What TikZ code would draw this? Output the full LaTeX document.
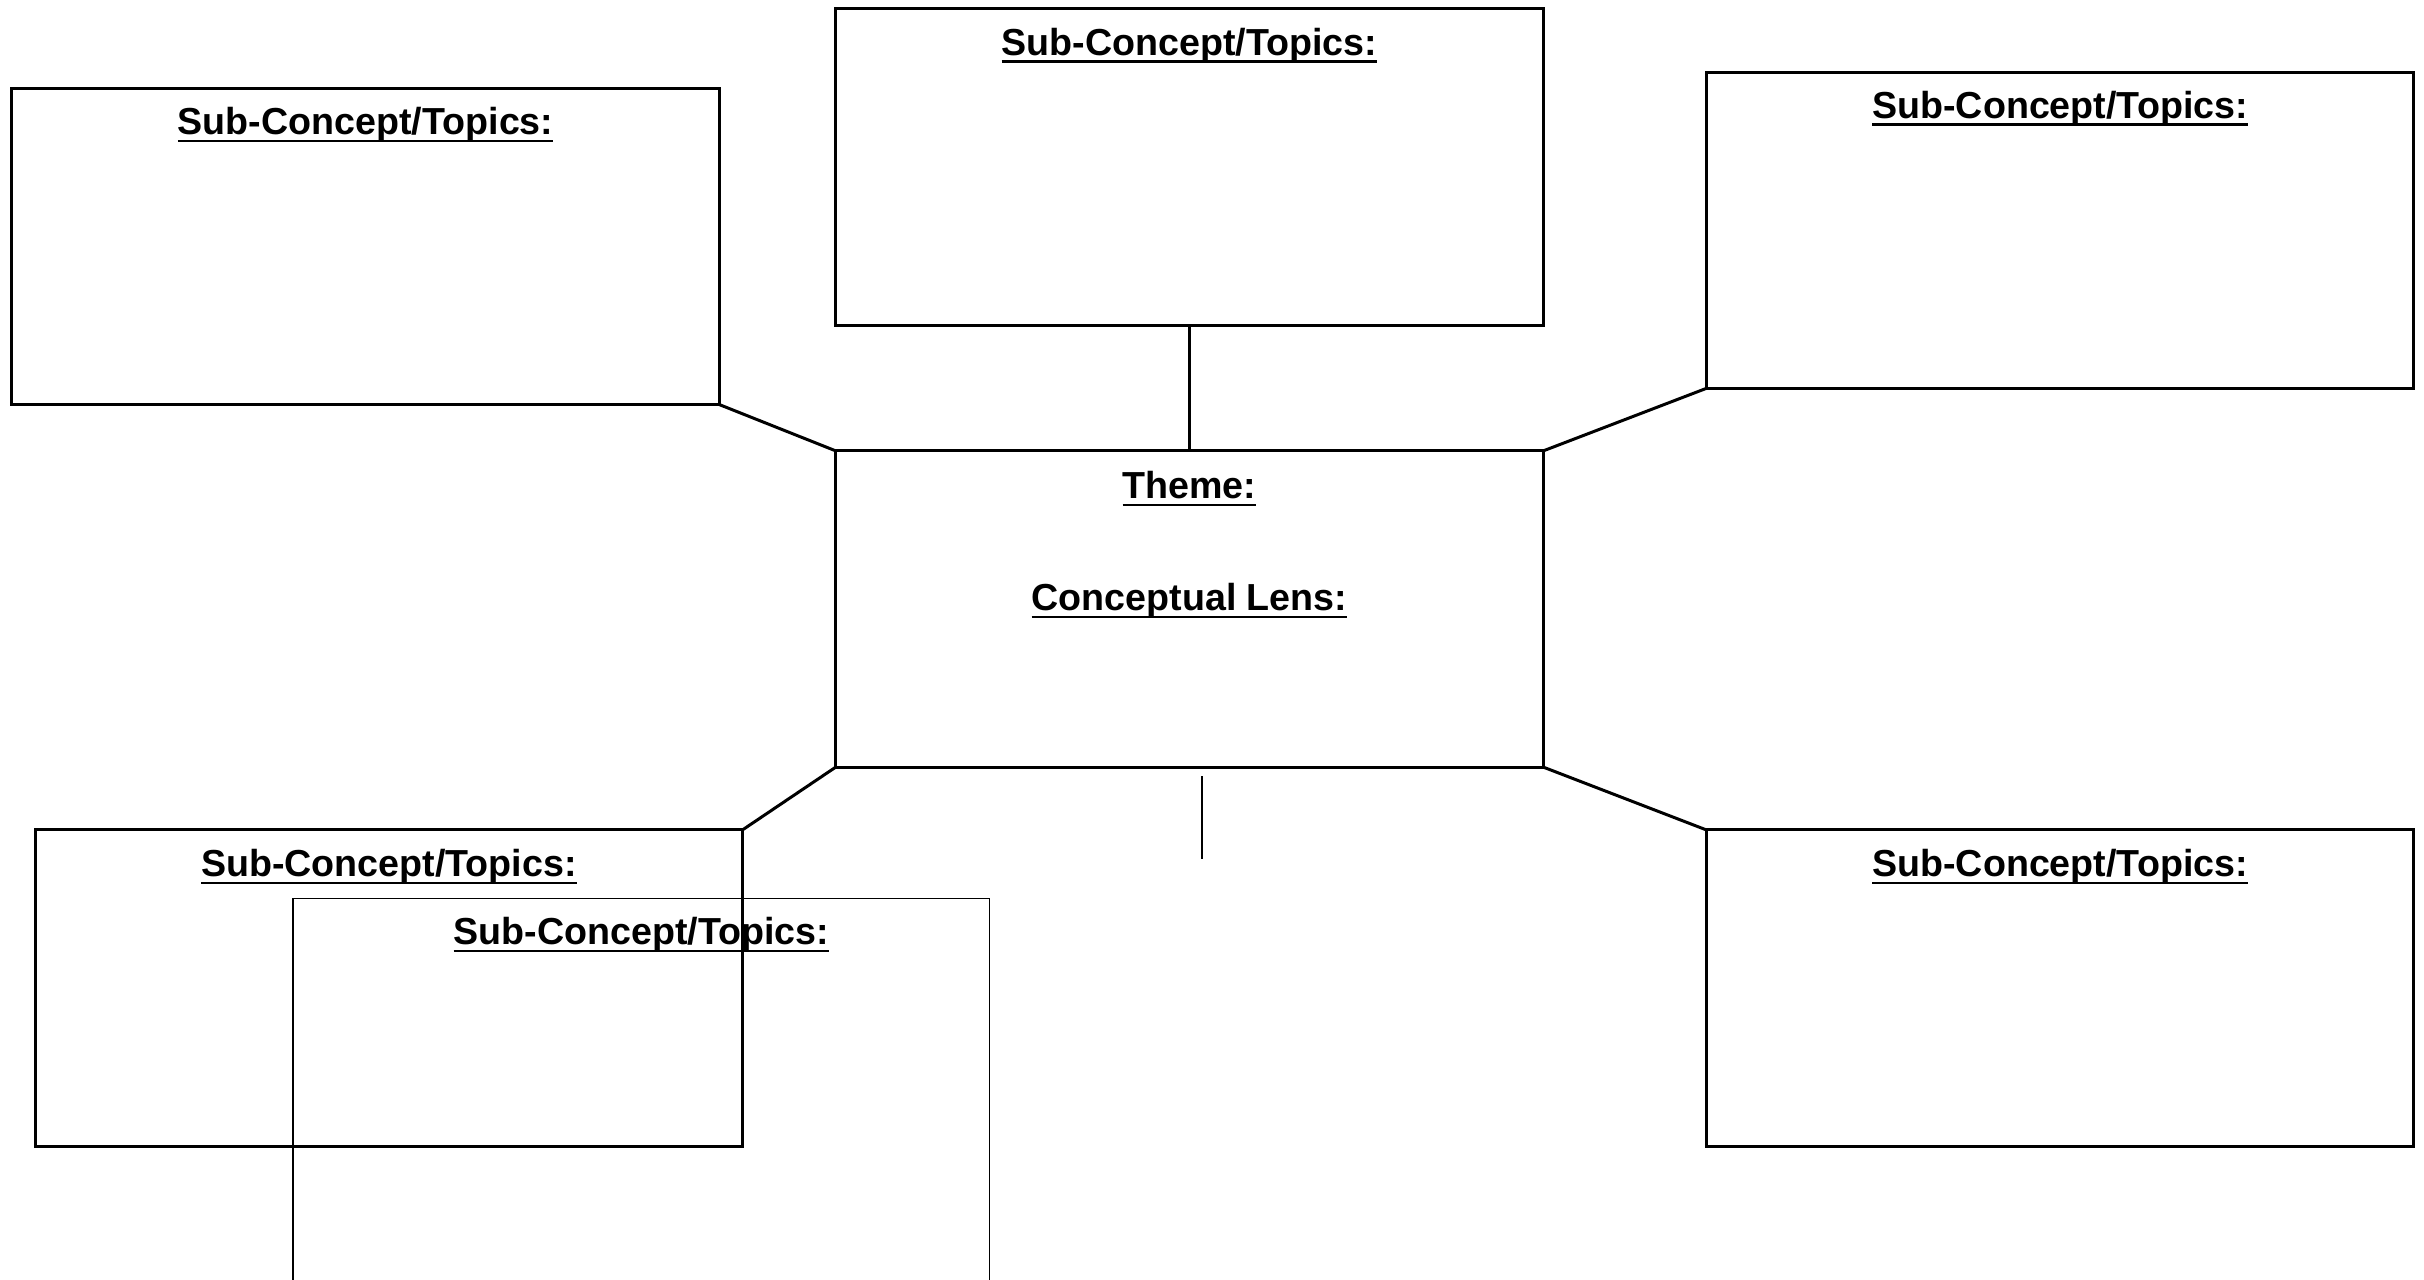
\documentclass[tikz,border=0pt]{standalone}
\usepackage{fontspec}
\setmainfont{Liberation Sans}
\usetikzlibrary{calc}

% bold heading with an underline that runs through the descenders
\newcommand\undertext[1]{\setbox0\hbox{#1}\makebox[0pt][l]{\rule[-0.735mm]{\wd0}{0.27mm}}\box0}

\begin{document}
\begin{tikzpicture}[x=0.01cm,y=-0.01cm,
  conceptbox/.style={draw,line width=0.85pt,minimum width=7.07cm,minimum height=3.16cm,inner sep=0pt,outer sep=0pt},
  thinbox/.style={draw,line width=0.45pt,minimum width=6.96cm,minimum height=4.3cm,inner sep=0pt,outer sep=0pt},
  heading/.style={anchor=base,inner sep=0pt,font=\fontsize{10.7pt}{12pt}\selectfont\bfseries},
  link/.style={line width=0.85pt},
  thinlink/.style={line width=0.45pt}]
\useasboundingbox (0,0) rectangle (2424,1280);
\clip (0,0) rectangle (2424,1280);

% boxes
\node[conceptbox] (ctr) at (1189.5,609) {};
\node[conceptbox] (top) at (1189.5,167) {};
\node[conceptbox] (tl)  at (365.6,246.5) {};
\node[conceptbox] (tr)  at (2060,230.3) {};
\node[conceptbox] (bl)  at (388.8,988) {};
\node[conceptbox] (br)  at (2060,988) {};
\node[thinbox]    (ov)  at (641.3,1113.5) {};

% headings
\node[heading] (ttop) at ($(top.north)+(0,46.5)$) {\undertext{Sub-Concept/Topics:}};
\node[heading] (ttl)  at ($(tl.north)+(0,46.5)$)  {\undertext{Sub-Concept/Topics:}};
\node[heading] (ttr)  at ($(tr.north)+(0,46.5)$)  {\undertext{Sub-Concept/Topics:}};
\node[heading] (tbl)  at ($(bl.north)+(0,47)$)    {\undertext{Sub-Concept/Topics:}};
\node[heading] (tbr)  at ($(br.north)+(0,47)$)    {\undertext{Sub-Concept/Topics:}};
\node[heading] (tov)  at ($(ov.north)+(0,46.5)$)  {\undertext{Sub-Concept/Topics:}};
\node[heading] (theme) at ($(ctr.north)+(0,48)$)  {\undertext{Theme:}};
\node[heading] (lens)  at ($(ctr.north)+(0,160)$) {\undertext{Conceptual Lens:}};

% connectors
\draw[link] (tl.south east) -- (ctr.north west);
\draw[link] (top.south) -- (ctr.north);
\draw[link] (tr.south west) -- (ctr.north east);
\draw[link] (bl.north east) -- (ctr.south west);
\draw[link] (br.north west) -- (ctr.south east);

% short stub below the theme box
\coordinate (stubA) at ($(ctr.south)+(12.3,9)$);
\coordinate (stubB) at ($(ctr.south)+(12.3,92)$);
\draw[thinlink] (stubA) -- (stubB);
\end{tikzpicture}
\end{document}
